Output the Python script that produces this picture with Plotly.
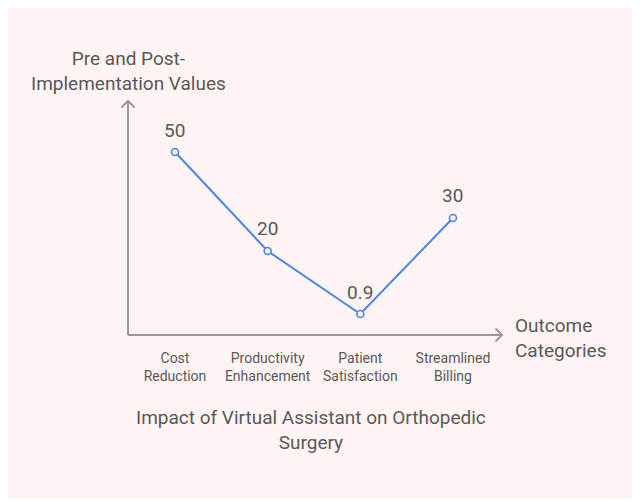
import plotly.graph_objects as go

categories = ["Cost Reduction", "Productivity Enhancement", "Patient Satisfaction", "Streamlined Billing"]
tick_labels = ["Cost<br>Reduction", "Productivity<br>Enhancement", "Patient<br>Satisfaction", "Streamlined<br>Billing"]
values = [50, 20, 0.9, 30]
value_labels = ["50", "20", "0.9", "30"]

OFF = 8  # page offset of the figure div
W, H = 640 - OFF, 501 - OFF
L, R, T, B = 128, 503, 100, 335  # plot area in screen px
BG = "#fef4f3"
TXT = "#595959"
AX = "#999999"
BLUE = "#4a86e8"
FONT = "Roboto"

def px(x):
    return (x - L) / (R - L)

def py(y):
    return (B - y) / (B - T)

xs = list(range(len(categories)))

fig = go.Figure()
fig.add_trace(go.Scatter(
    x=xs, y=values, mode="lines+markers",
    line=dict(color=BLUE, width=2),
    marker=dict(symbol="circle", size=7, color=BG, line=dict(color=BLUE, width=1.6)),
    hoverinfo="skip", showlegend=False,
))

annotations = []
for x, v, t in zip(xs, values, value_labels):
    annotations.append(dict(x=x, y=v, text=t, showarrow=False, yshift=22,
                            font=dict(family=FONT, size=19, color=TXT)))

annotations += [
    dict(xref="paper", yref="paper", x=px(128), y=py(71), text="Pre and Post-<br>Implementation Values",
         showarrow=False, font=dict(family=FONT, size=19, color=TXT), xanchor="center", yanchor="middle"),
    dict(xref="paper", yref="paper", x=px(513), y=py(338), text="Outcome<br>Categories",
         showarrow=False, font=dict(family=FONT, size=19, color=TXT), xanchor="left", yanchor="middle", align="left"),
    dict(xref="paper", yref="paper", x=px(311), y=py(430), text="Impact of Virtual Assistant on Orthopedic<br>Surgery",
         showarrow=False, font=dict(family=FONT, size=19, color=TXT), xanchor="center", yanchor="middle"),
]

shapes = [
    # rounded background card
    dict(type="path", xref="paper", yref="paper", layer="below",
         path=(f"M {px(8)},{py(8)} L {px(630)},{py(8)} Q {px(638)},{py(8)} {px(638)},{py(16)} "
               f"L {px(638)},{py(491)} Q {px(638)},{py(499)} {px(630)},{py(499)} "
               f"L {px(8)},{py(499)} L {px(8)},{py(8)} Z"),
         fillcolor=BG, line=dict(width=0)),
    # y axis
    dict(type="line", xref="paper", yref="paper", x0=px(128), y0=py(335), x1=px(128), y1=py(101),
         line=dict(color=AX, width=2)),
    dict(type="path", xref="paper", yref="paper",
         path=f"M {px(121.5)},{py(107.5)} L {px(128)},{py(101)} L {px(134.5)},{py(107.5)}",
         line=dict(color=AX, width=2)),
    # x axis
    dict(type="line", xref="paper", yref="paper", x0=px(128), y0=py(335), x1=px(502), y1=py(335),
         line=dict(color=AX, width=2)),
    dict(type="path", xref="paper", yref="paper",
         path=f"M {px(495.5)},{py(328.5)} L {px(502)},{py(335)} L {px(495.5)},{py(341.5)}",
         line=dict(color=AX, width=2)),
]

fig.update_layout(
    width=W, height=H,
    margin=dict(l=L - OFF, r=W - (R - OFF), t=T - OFF, b=H - (B - OFF)),
    paper_bgcolor="white", plot_bgcolor="rgba(0,0,0,0)",
    font=dict(family=FONT, color=TXT),
    xaxis=dict(range=[-0.507, 3.54], tickmode="array", tickvals=xs, ticktext=tick_labels,
               showgrid=False, zeroline=False, showline=False, ticks="",
               tickfont=dict(family=FONT, size=14, color=TXT), ticklabelstandoff=13, fixedrange=True),
    yaxis=dict(range=[-5.46, 65.76], showticklabels=False, showgrid=False, zeroline=False,
               showline=False, ticks="", fixedrange=True),
    annotations=annotations,
    shapes=shapes,
)

fig.write_html("out.html")
